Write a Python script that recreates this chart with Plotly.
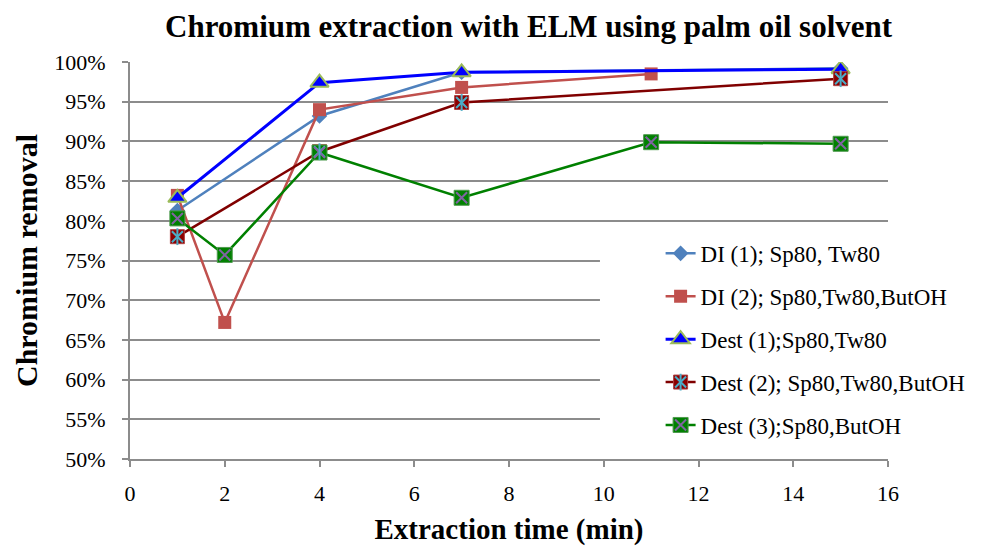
import plotly.graph_objects as go

FONT = "Liberation Serif"

# Extraction times (min) for each run
t_di1 = [1, 4, 7, 15]
t_di2 = [1, 2, 4, 7, 11]
t_dest1 = [1, 4, 7, 15]
t_dest2 = [1, 4, 7, 15]
t_dest3 = [1, 2, 4, 7, 11, 15]

# Chromium removal (%)
di1 = [81.3, 93.2, 98.7, 99.2]
di2 = [83.2, 67.2, 94.0, 96.8, 98.5]
dest1 = [82.9, 97.4, 98.7, 99.1]
dest2 = [78.0, 88.7, 94.9, 97.9]
dest3 = [80.3, 75.7, 88.6, 82.9, 89.9, 89.7]

series_names = [
    "DI (1); Sp80, Tw80",
    "DI (2); Sp80,Tw80,ButOH",
    "Dest (1);Sp80,Tw80",
    "Dest (2); Sp80,Tw80,ButOH",
    "Dest (3);Sp80,ButOH",
]

x_ticks = list(range(0, 17, 2))
y_ticks = list(range(50, 101, 5))

title_text = "Chromium extraction with ELM using palm oil solvent"
x_title = "Extraction time (min)"
y_title = "Chromium removal"

series = [
    dict(x=t_di1, y=di1, line="#4F81BD", width=2.5,
         marker=dict(symbol="diamond", size=12, color="#4F81BD", line=dict(width=0)),
         cross=None, bar=None),
    dict(x=t_di2, y=di2, line="#C0504D", width=2.5,
         marker=dict(symbol="square", size=13, color="#C0504D", line=dict(width=0)),
         cross=None, bar=None),
    dict(x=t_dest1, y=dest1, line="#0000FF", width=3,
         marker=dict(symbol="triangle-up", size=16, color="#0000FF",
                     line=dict(width=2, color="#9BBB59")),
         cross=None, bar=None),
    dict(x=t_dest2, y=dest2, line="#800000", width=2.5,
         marker=dict(symbol="square", size=14, color="#8B0000",
                     line=dict(width=1, color="#B04040")),
         cross="#4BACC6", bar="#4BACC6"),
    dict(x=t_dest3, y=dest3, line="#008000", width=2.5,
         marker=dict(symbol="square", size=15, color="#008000",
                     line=dict(width=1, color="#4E9A4E")),
         cross="#8064A2", bar=None),
]

fig = go.Figure()

# Main series (line + base marker)
for i, (name, s) in enumerate(zip(series_names, series)):
    fig.add_trace(go.Scatter(
        x=s["x"], y=s["y"], name=name, mode="lines+markers",
        line=dict(color=s["line"], width=s["width"]),
        marker=s["marker"], legend="legend", legendgroup=f"m{i}",
    ))


def overlay(key, symbol, size, legend_id):
    """Glyph drawn over the base markers; its own label-less legend sits on top
    of the main legend so the composite symbol shows there as well."""
    for i, s in enumerate(series):
        color = s[key]
        if color is None:
            mk = dict(color="rgba(0,0,0,0)", size=2, line=dict(width=0))
        else:
            mk = dict(symbol=symbol, size=size, color=color,
                      line=dict(width=2, color=color))
        fig.add_trace(go.Scatter(
            x=s["x"], y=s["y"], name="", mode="markers", marker=mk,
            legend=legend_id, legendgroup=f"{legend_id}{i}", hoverinfo="skip",
        ))


overlay("cross", "x-thin-open", 11, "legend2")
overlay("bar", "line-ns-open", 12, "legend3")

legend_font = dict(family=FONT, size=23, color="black")
legend_common = dict(
    x=0.70, y=0.572, xanchor="left", yanchor="top",
    bgcolor="rgba(0,0,0,0)", borderwidth=0,
    traceorder="grouped", tracegroupgap=10,
    itemclick=False, itemdoubleclick=False, font=legend_font,
)

fig.update_layout(
    width=1003, height=546,
    margin=dict(l=130, r=115, t=62, b=87, autoexpand=False),
    paper_bgcolor="white", plot_bgcolor="white",
    font=dict(family=FONT, color="black"),
    title=dict(text=f"<b>{title_text}</b>", x=0.527, xanchor="center",
               y=0.952, yanchor="middle",
               font=dict(family=FONT, size=31, color="black")),
    showlegend=True,
    legend=legend_common,
    legend2=legend_common,
    legend3=legend_common,
    xaxis=dict(
        range=[0, 16], tickvals=x_ticks, ticktext=[str(v) for v in x_ticks],
        showgrid=False, zeroline=False, automargin=False,
        showline=True, linecolor="#8C8C8C", linewidth=2,
        ticks="outside", ticklen=6, tickwidth=2, tickcolor="#8C8C8C",
        ticklabelstandoff=8,
        tickfont=dict(family=FONT, size=22, color="black"),
        title=dict(text=f"<b>{x_title}</b>", standoff=16,
                   font=dict(family=FONT, size=29, color="black")),
    ),
    yaxis=dict(
        range=[50, 100], tickvals=y_ticks, ticktext=[f"{v}%" for v in y_ticks],
        showgrid=True, gridcolor="#8C8C8C", gridwidth=2,
        zeroline=False, automargin=False,
        showline=True, linecolor="#8C8C8C", linewidth=2,
        ticks="outside", ticklen=6, tickwidth=2, tickcolor="#8C8C8C",
        ticklabelstandoff=12,
        tickfont=dict(family=FONT, size=22, color="black"),
        title=dict(text=f"<b>{y_title}</b>", standoff=8,
                   font=dict(family=FONT, size=30, color="black")),
    ),
    # white panel behind the legend, interrupting the gridlines there
    shapes=[dict(
        type="rect", xref="paper", yref="paper",
        x0=0.62, x1=1.0, y0=0.045, y1=0.57,
        fillcolor="white", line=dict(width=0), layer="above",
    )],
)

fig.write_html("out.html")
